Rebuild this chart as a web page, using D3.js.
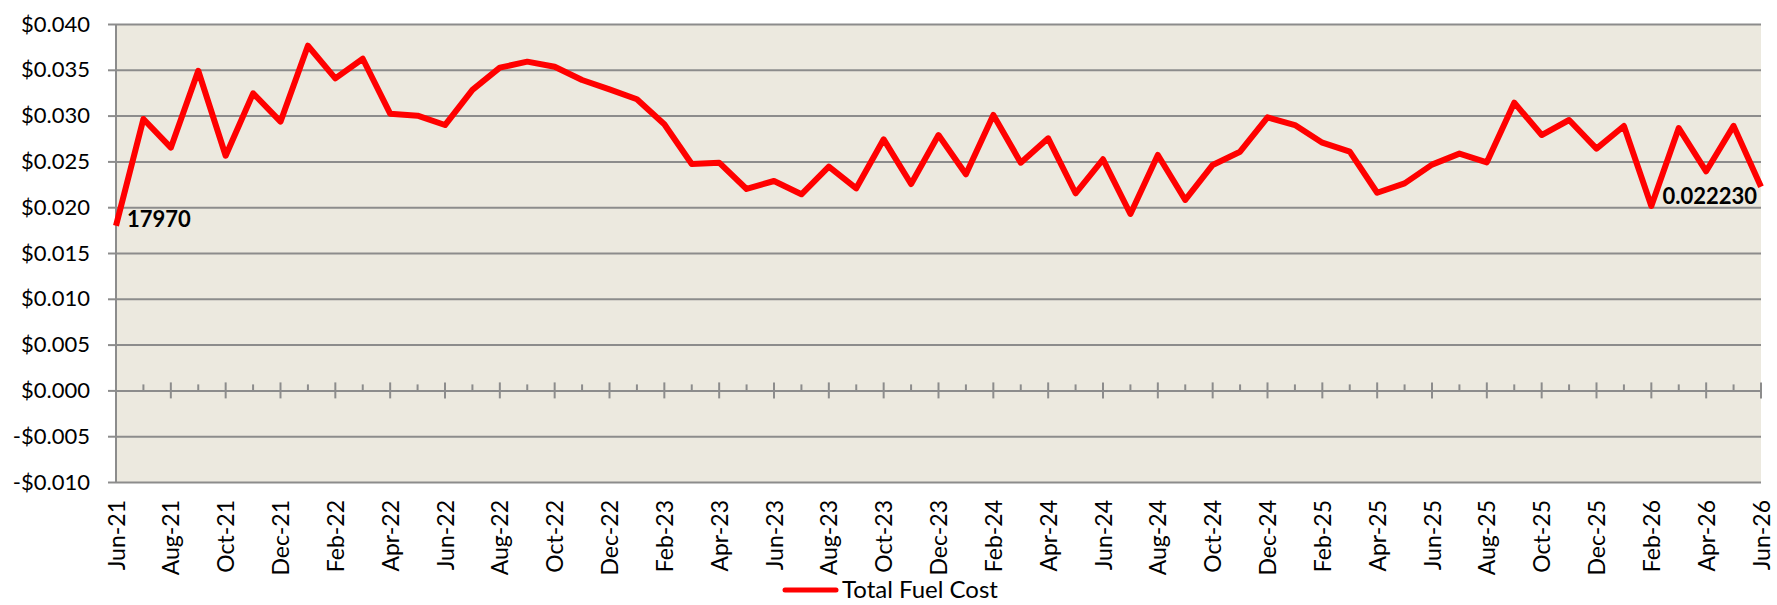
<!DOCTYPE html>
<html>
<head>
<meta charset="utf-8">
<script src="https://cdn.jsdelivr.net/npm/d3@7"></script>
<style>
  html, body { margin: 0; padding: 0; background: #ffffff; }
  svg { display: block; }
  text { font-family: Lato, "Noto Sans", sans-serif; }
</style>
</head>
<body>
<svg id="chart" width="1777" height="605"></svg>
<script>
// Monthly total fuel cost, Jun-21 through Jun-26
const months = [
  "2021-06","2021-07","2021-08","2021-09","2021-10","2021-11","2021-12",
  "2022-01","2022-02","2022-03","2022-04","2022-05","2022-06","2022-07","2022-08","2022-09","2022-10","2022-11","2022-12",
  "2023-01","2023-02","2023-03","2023-04","2023-05","2023-06","2023-07","2023-08","2023-09","2023-10","2023-11","2023-12",
  "2024-01","2024-02","2024-03","2024-04","2024-05","2024-06","2024-07","2024-08","2024-09","2024-10","2024-11","2024-12",
  "2025-01","2025-02","2025-03","2025-04","2025-05","2025-06","2025-07","2025-08","2025-09","2025-10","2025-11","2025-12",
  "2026-01","2026-02","2026-03","2026-04","2026-05","2026-06"
];

const totalFuelCost = [
  0.017970, 0.02963, 0.02650, 0.03490, 0.02562, 0.03243, 0.02934,
  0.03763, 0.03407, 0.03621, 0.03021, 0.02999, 0.02897, 0.03280, 0.03523, 0.03589, 0.03534, 0.03389, 0.03287,
  0.03178, 0.02905, 0.02472, 0.02486, 0.02199, 0.02286, 0.02141, 0.02442, 0.02206, 0.02741, 0.02253, 0.02788,
  0.02359, 0.03007, 0.02486, 0.02752, 0.02152, 0.02523, 0.01926, 0.02570, 0.02079, 0.02461, 0.02606, 0.02981,
  0.02897, 0.02704, 0.02606, 0.02158, 0.02260, 0.02465, 0.02585, 0.02490, 0.03141, 0.02788, 0.02952, 0.02640,
  0.02886, 0.02013, 0.02864, 0.02392, 0.02888, 0.022230
];

const yTicks = [-0.010, -0.005, 0.000, 0.005, 0.010, 0.015, 0.020, 0.025, 0.030, 0.035, 0.040];

// Every second month carries a label
const xTickLabels = [
  "Jun-21","Aug-21","Oct-21","Dec-21","Feb-22","Apr-22","Jun-22","Aug-22","Oct-22","Dec-22",
  "Feb-23","Apr-23","Jun-23","Aug-23","Oct-23","Dec-23","Feb-24","Apr-24","Jun-24","Aug-24",
  "Oct-24","Dec-24","Feb-25","Apr-25","Jun-25","Aug-25","Oct-25","Dec-25","Feb-26","Apr-26","Jun-26"
];

const seriesName = "Total Fuel Cost";
const firstLabel = "17970";
const lastLabel = "0.022230";

const plot = { left: 116, right: 1761, top: 24, bottom: 482 };
const gridColor = "#8c8c8c";

const svg = d3.select("#chart");

const x = d3.scalePoint().domain(months).range([plot.left, plot.right]);
const y = d3.scaleLinear().domain([-0.010, 0.040]).range([plot.bottom, plot.top]);

const fmtY = v => (v < -1e-9 ? "-" : "") + "$" + Math.abs(v).toFixed(3);

// Plot background
svg.append("rect")
  .attr("x", plot.left).attr("y", plot.top)
  .attr("width", plot.right - plot.left).attr("height", plot.bottom - plot.top)
  .attr("fill", "#ECE9DF");

// Horizontal gridlines + left ticks/labels
const yAxis = svg.append("g")
  .attr("transform", `translate(${plot.left},0)`)
  .call(d3.axisLeft(y).tickValues(yTicks).tickFormat(fmtY).tickSizeOuter(0).tickSizeInner(8).tickPadding(18));
yAxis.select(".domain").remove();
yAxis.selectAll(".tick line").attr("stroke", gridColor).attr("stroke-width", 2);
yAxis.selectAll(".tick").append("line")
  .attr("x1", 0).attr("x2", plot.right - plot.left)
  .attr("stroke", gridColor).attr("stroke-width", 2);
yAxis.selectAll(".tick text")
  .attr("fill", "#000").attr("font-size", 22).attr("font-family", "Lato");

// Vertical axis line
svg.append("line")
  .attr("x1", plot.left).attr("x2", plot.left)
  .attr("y1", plot.top).attr("y2", plot.bottom)
  .attr("stroke", gridColor).attr("stroke-width", 2);

// Month ticks on the zero line: labelled months cross the line, the others sit above it
const labelledMonths = months.filter((m, i) => i % 2 === 0);
const tickG = svg.append("g");
tickG.selectAll("line.tk")
  .data(months)
  .join("line")
  .attr("class", "tk")
  .attr("x1", d => x(d)).attr("x2", d => x(d))
  .attr("y1", (d, i) => y(0) - (i % 2 === 0 ? 8 : 6))
  .attr("y2", (d, i) => y(0) + (i % 2 === 0 ? 8 : 0))
  .attr("stroke", gridColor).attr("stroke-width", 2);

// Month labels below the plot area
const xAxis = svg.append("g")
  .attr("transform", `translate(0,${plot.bottom})`)
  .call(d3.axisBottom(x).tickValues(labelledMonths)
    .tickFormat((d, i) => xTickLabels[i]).tickSize(0));
xAxis.select(".domain").remove();
xAxis.selectAll(".tick text")
  .attr("transform", "rotate(-90)")
  .attr("text-anchor", "end")
  .attr("x", -18).attr("y", 0).attr("dy", "0.35em")
  .attr("fill", "#000").attr("font-size", 23).attr("font-family", "Lato");

// Series line
const line = d3.line()
  .x((d, i) => x(months[i]))
  .y(d => y(d));
svg.append("path")
  .datum(totalFuelCost)
  .attr("d", line)
  .attr("fill", "none")
  .attr("stroke", "#FF0000")
  .attr("stroke-width", 6)
  .attr("stroke-linejoin", "round");

// End-point value labels
const n = totalFuelCost.length;
svg.append("text")
  .attr("x", x(months[0]) + 11)
  .attr("y", y(totalFuelCost[0]) + 1)
  .attr("font-size", 22).attr("font-weight", "bold").attr("fill", "#000")
  .text(firstLabel);
svg.append("text")
  .attr("x", x(months[n - 1]) - 4)
  .attr("y", y(totalFuelCost[n - 1]) + 17)
  .attr("text-anchor", "end")
  .attr("font-size", 22).attr("font-weight", "bold").attr("fill", "#000")
  .text(lastLabel);

// Legend
const legend = svg.append("g").attr("transform", "translate(783,590)");
legend.append("line")
  .attr("x1", 2).attr("x2", 53).attr("y1", 0).attr("y2", 0)
  .attr("stroke", "#FF0000").attr("stroke-width", 5).attr("stroke-linecap", "round");
legend.append("text")
  .attr("x", 59).attr("y", 8)
  .attr("font-size", 24).attr("fill", "#000")
  .text(seriesName);
</script>
</body>
</html>
